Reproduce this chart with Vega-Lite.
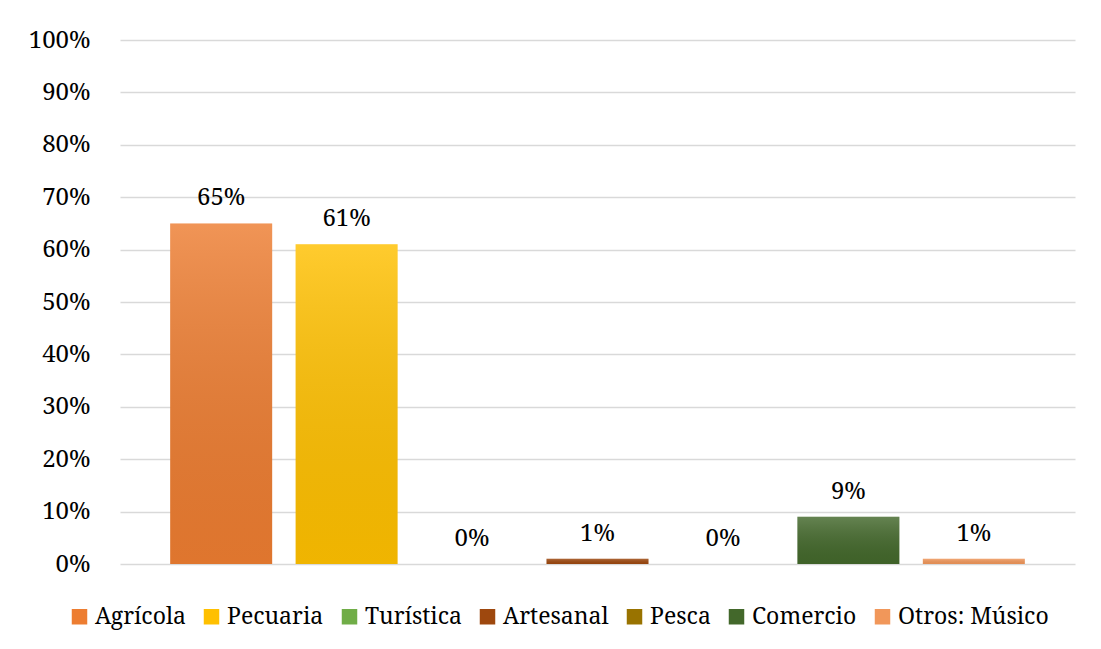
{
  "$schema": "https://vega.github.io/schema/vega-lite/v6.json",
  "width": 955,
  "height": 524,
  "autosize": {"type": "none"},
  "padding": {"left": 120, "top": 40, "right": 26, "bottom": 85},
  "background": "white",
  "config": {
    "font": "Noto Serif",
    "view": {"stroke": null}
  },
  "data": {
    "values": [
      {"actividad": "Agrícola", "valor": 0.65},
      {"actividad": "Pecuaria", "valor": 0.61},
      {"actividad": "Turística", "valor": 0.0},
      {"actividad": "Artesanal", "valor": 0.01},
      {"actividad": "Pesca", "valor": 0.0},
      {"actividad": "Comercio", "valor": 0.09},
      {"actividad": "Otros: Músico", "valor": 0.01}
    ]
  },
  "encoding": {
    "x": {
      "field": "actividad",
      "type": "nominal",
      "sort": null,
      "axis": null,
      "scale": {"paddingInner": 0.187, "paddingOuter": 0.4}
    },
    "y": {
      "field": "valor",
      "type": "quantitative",
      "scale": {"domain": [0, 1]},
      "axis": {
        "values": [0, 0.1, 0.2, 0.3, 0.4, 0.5, 0.6, 0.7, 0.8, 0.9, 1.0],
        "format": ".0%",
        "title": null,
        "domain": false,
        "ticks": false,
        "labelPadding": 30,
        "labelFont": "Noto Serif",
        "labelFontSize": 24,
        "labelColor": "#000000",
        "gridColor": "#D9D9D9",
        "gridWidth": 1.3
      }
    }
  },
  "layer": [
    {
      "mark": {"type": "bar"},
      "encoding": {
        "color": {
          "field": "actividad",
          "type": "nominal",
          "scale": {
            "domain": ["Agrícola", "Pecuaria", "Turística", "Artesanal", "Pesca", "Comercio", "Otros: Músico"],
            "range": ["#ED7D31", "#FFC000", "#70AD47", "#9E480E", "#997300", "#43682B", "#F1975A"]
          },
          "legend": {
            "title": null,
            "orient": "none",
            "direction": "horizontal",
            "columns": 7,
            "legendX": -52,
            "legendY": 565,
            "padding": 0,
            "symbolType": "square",
            "symbolSize": 240,
            "symbolStrokeWidth": 0,
            "symbolOpacity": 1,
            "labelFont": "Noto Serif",
            "labelFontSize": 23,
            "labelColor": "#000000",
            "labelOffset": 4,
            "columnPadding": 14,
            "labelLimit": 400
          }
        }
      }
    },
    {
      "mark": {
        "type": "bar",
        "color": {
          "gradient": "linear",
          "x1": 0, "y1": 0, "x2": 0, "y2": 1,
          "stops": [
            {"offset": 0, "color": "rgba(255,255,255,0.18)"},
            {"offset": 1, "color": "rgba(0,0,0,0.06)"}
          ]
        }
      }
    },
    {
      "mark": {
        "type": "text",
        "baseline": "alphabetic",
        "dy": -18,
        "font": "Noto Serif",
        "fontSize": 24,
        "color": "#000000"
      },
      "encoding": {
        "text": {"field": "valor", "type": "quantitative", "format": ".0%"}
      }
    }
  ]
}
